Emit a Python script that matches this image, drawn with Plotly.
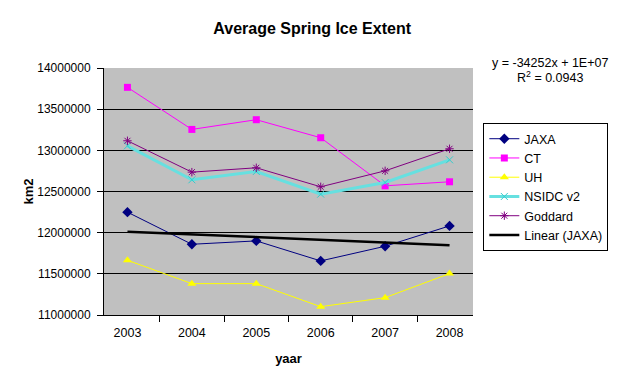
import numpy as np
import plotly.graph_objects as go

years = ["2003", "2004", "2005", "2006", "2007", "2008"]
jaxa = [12249000, 11859000, 11900000, 11657000, 11835000, 12082000]
ct = [13765000, 13254000, 13372000, 13153000, 12569000, 12618000]
uh = [11665000, 11381000, 11381000, 11101000, 11211000, 11503000]
nsidc = [13055000, 12642000, 12743000, 12468000, 12609000, 12885000]
goddard = [13116000, 12735000, 12788000, 12557000, 12751000, 13019000]

xi = np.arange(1, len(years) + 1)
slope, intercept = np.polyfit(xi, jaxa, 1)
trend = slope * xi + intercept

FONT = "Arial, Liberation Sans, sans-serif"

fig = go.Figure()
fig.add_trace(go.Scatter(x=years, y=jaxa, name="JAXA", mode="lines+markers",
                         line=dict(color="#000080", width=1),
                         marker=dict(symbol="diamond", size=8, color="#000080")))
fig.add_trace(go.Scatter(x=years, y=ct, name="CT", mode="lines+markers",
                         line=dict(color="#FF00FF", width=1),
                         marker=dict(symbol="square", size=7, color="#FF00FF")))
fig.add_trace(go.Scatter(x=years, y=uh, name="UH", mode="lines+markers",
                         line=dict(color="#FFFF00", width=1),
                         marker=dict(symbol="triangle-up", size=8, color="#FFFF00")))
fig.add_trace(go.Scatter(x=years, y=nsidc, name="NSIDC v2", mode="lines+markers",
                         line=dict(color="#66E0E0", width=3),
                         marker=dict(symbol="x-thin-open", size=7, color="#33CCCC",
                                     line=dict(width=1, color="#33CCCC"))))
fig.add_trace(go.Scatter(x=years, y=goddard, name="Goddard", mode="lines+markers",
                         line=dict(color="#800080", width=1),
                         marker=dict(symbol="asterisk-open", size=7, color="#800080",
                                     line=dict(width=1, color="#800080"))))
fig.add_trace(go.Scatter(x=years, y=trend, name="Linear (JAXA)", mode="lines",
                         line=dict(color="#000000", width=2.5)))

fig.update_layout(
    width=612, height=372,
    margin=dict(l=96, r=129, t=60, b=65),
    paper_bgcolor="white", plot_bgcolor="#C0C0C0",
    font=dict(family=FONT, size=12, color="black"),
    title=dict(text="<b>Average Spring Ice Extent</b>", x=0.497, xanchor="center",
               y=0.946, yanchor="middle", font=dict(size=16)),
    showlegend=True,
    legend=dict(x=1.028, y=0.777, xanchor="left", yanchor="top",
                bordercolor="black", borderwidth=1, bgcolor="white",
                font=dict(size=12.5), tracegroupgap=0, itemwidth=30),
    xaxis=dict(type="category", tickson="boundaries", ticks="outside", ticklen=6,
               tickcolor="black", showline=True, linecolor="black", linewidth=1,
               showgrid=False, tickfont=dict(size=12.5), ticklabelstandoff=6,
               title=dict(text="<b>yaar</b>", font=dict(size=13), standoff=14)),
    yaxis=dict(range=[11000000, 14000000], dtick=500000, tickformat="d",
               ticks="outside", ticklen=6, tickcolor="black",
               showline=True, linecolor="black", linewidth=1,
               showgrid=True, gridcolor="black", gridwidth=1, zeroline=False,
               tickfont=dict(size=12), ticklabelstandoff=4,
               title=dict(text="<b>km2</b>", font=dict(size=13), standoff=0)),
    annotations=[
        dict(text="y = -34252x + 1E+07", x=1.208, y=1.021, xref="paper", yref="paper",
             showarrow=False, font=dict(size=12.5), xanchor="center", yanchor="middle"),
        dict(text="R<sup>2</sup> = 0.0943", x=1.208, y=0.962, xref="paper", yref="paper",
             showarrow=False, font=dict(size=12.5), xanchor="center", yanchor="middle"),
    ],
)

fig.write_html("out.html")
